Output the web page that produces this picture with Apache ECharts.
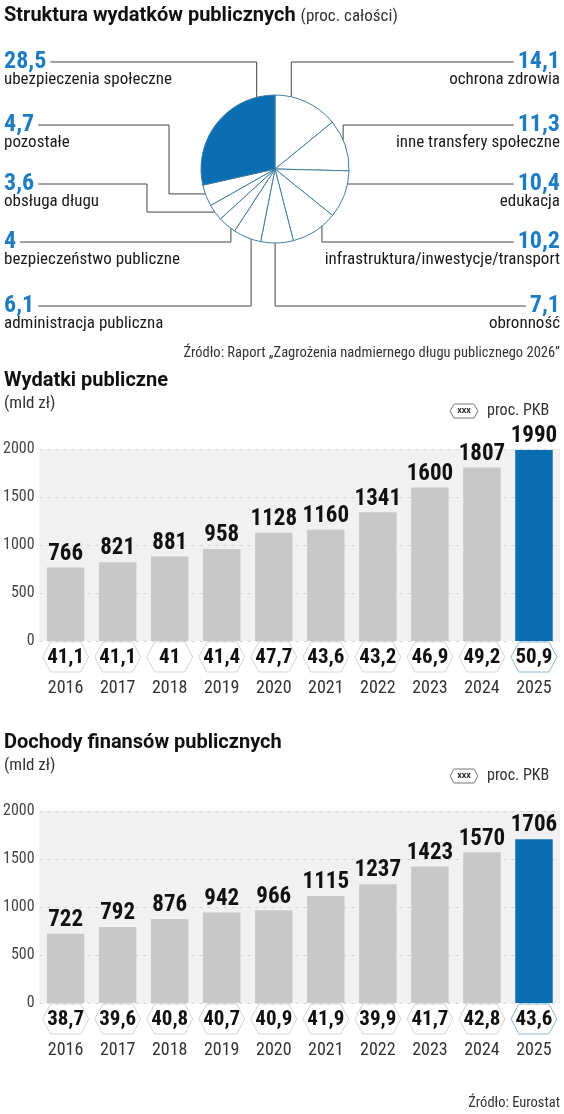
<!DOCTYPE html>
<html lang="pl">
<head>
<meta charset="utf-8">
<title>Wydatki i dochody publiczne</title>
<script src="https://cdn.jsdelivr.net/npm/echarts@6/dist/echarts.min.js"></script>
<style>
  html, body { margin: 0; padding: 0; background: #fff; }
  #main { width: 564px; height: 1114px; }
</style>
</head>
<body>
<div id="main"></div>
<script>
// ---- data ----
var pieNames = ['ochrona zdrowia', 'inne transfery społeczne', 'edukacja',
  'infrastruktura/inwestycje/transport', 'obronność', 'administracja publiczna',
  'bezpieczeństwo publiczne', 'obsługa długu', 'pozostałe', 'ubezpieczenia społeczne'];
var pieValues = [14.1, 11.3, 10.4, 10.2, 7.1, 6.1, 4, 3.6, 4.7, 28.5];

var years = ['2016', '2017', '2018', '2019', '2020', '2021', '2022', '2023', '2024', '2025'];
var wydatki = [766, 821, 881, 958, 1128, 1160, 1341, 1600, 1807, 1990];
var wydatkiPkb = [41.1, 41.1, 41, 41.4, 47.7, 43.6, 43.2, 46.9, 49.2, 50.9];
var dochody = [722, 792, 876, 942, 966, 1115, 1237, 1423, 1570, 1706];
var dochodyPkb = [38.7, 39.6, 40.8, 40.7, 40.9, 41.9, 39.9, 41.7, 42.8, 43.6];

var BLUE = '#0b6db2';
var GREY_BAR = '#c8c8c8';
var NARROW = "'Liberation Sans Narrow', 'Roboto Condensed', 'DejaVu Sans Condensed', sans-serif";
var SANS = "Roboto, 'Noto Sans', sans-serif";

function pl(v) { return String(v).replace('.', ','); }

var measureCtx = document.createElement('canvas').getContext('2d');
function textW(t, font) { measureCtx.font = font; return measureCtx.measureText(t).width; }

// ---- pie label layout ----
var PIE_C = [275, 169], PIE_R = 74;
// side, y of the leader row, where on the slice arc the leader starts (0..1), optional elbow x
var slots = [
  { side: 'r', y: 62, at: 0.25 },
  { side: 'r', y: 125, at: 0.4 },
  { side: 'r', y: 184, at: 0.27 },
  { side: 'r', y: 242, at: 0.32 },
  { side: 'r', y: 306, at: 0.56 },
  { side: 'l', y: 306, at: 0.35 },
  { side: 'l', y: 242, at: 0.24 },
  { side: 'l', y: 184, at: 0.53, bend: 147 },
  { side: 'l', y: 125, at: 0.58, bend: 169 },
  { side: 'l', y: 62, at: 0.86 }
];
var pieTotal = pieValues.reduce(function (a, b) { return a + b; }, 0);
var startDeg = [];
(function () {
  var acc = 0;
  pieValues.forEach(function (v) { startDeg.push(acc); acc += v / pieTotal * 360; });
})();

var VALUE_FONT = 'bold 24px ' + NARROW;

function pieLabelLayout(params) {
  var i = params.dataIndex, s = slots[i];
  var a = (startDeg[i] + s.at * pieValues[i] / pieTotal * 360) * Math.PI / 180;
  var px = PIE_C[0] + PIE_R * Math.sin(a), py = PIE_C[1] - PIE_R * Math.cos(a);
  var vw = textW(pl(pieValues[i]), VALUE_FONT);
  var lx = s.side === 'l' ? 4 : 560;
  var end = s.side === 'l' ? lx + vw + 4 : lx - vw - 4;
  var pts = [[px, py]];
  if (s.bend) { pts.push([s.bend, py]); pts.push([s.bend, s.y]); }
  else { pts.push([px, s.y]); }
  pts.push([end, s.y]);
  return {
    x: lx, y: s.y - 10,
    align: s.side === 'l' ? 'left' : 'right',
    verticalAlign: 'top',
    labelLinePoints: pts
  };
}

// ---- bar charts ----
var GRID_TOP = [449, 811];

function barSeries(vals, gi) {
  return {
    type: 'bar', xAxisIndex: gi, yAxisIndex: gi,
    barCategoryGap: '28%', silent: true,
    data: vals.map(function (v, i) {
      return { value: v, itemStyle: { color: i === vals.length - 1 ? BLUE : GREY_BAR } };
    }),
    label: {
      show: true, position: 'top', distance: 2,
      fontFamily: NARROW, fontWeight: 'bold', fontSize: 23, color: '#111'
    }
  };
}

function badgeSeries(pkb, gi) {
  return {
    type: 'custom', xAxisIndex: gi, yAxisIndex: gi, clip: false, silent: true, z: 5,
    data: pkb.map(function (v, i) { return [i, 0, v]; }),
    encode: { x: 0, y: 1 },
    renderItem: function (params, api) {
      var p = api.coord([api.value(0), 0]);
      var x = p[0], y = p[1] + 16, w = 23, h = 15, k = 8;
      var last = params.dataIndex === pkb.length - 1;
      return {
        type: 'group',
        children: [{
          type: 'polygon',
          shape: { points: [[x - w, y], [x - w + k, y - h], [x + w - k, y - h], [x + w, y], [x + w - k, y + h], [x - w + k, y + h]] },
          style: { fill: '#fff', stroke: last ? '#8db7d8' : '#d4d4d4', lineWidth: 1 }
        }, {
          type: 'text',
          style: {
            text: pl(api.value(2)), x: x, y: y + 1, align: 'center', verticalAlign: 'middle',
            font: 'bold 21px ' + NARROW, fill: '#111'
          }
        }]
      };
    }
  };
}

function legendGraphic(y) {
  return [{
    type: 'polygon',
    shape: { points: [[450, y], [454, y - 7], [474, y - 7], [478, y], [474, y + 7], [454, y + 7]] },
    style: { fill: '#fff', stroke: '#555', lineWidth: 0.8 }
  }, {
    type: 'text', x: 464, y: y,
    style: { text: 'xxx', font: 'bold 9px ' + SANS, fill: '#333', align: 'center', verticalAlign: 'middle' }
  }, {
    type: 'text', x: 487, y: y,
    style: { text: 'proc. PKB', font: '16px ' + NARROW, fill: '#333', verticalAlign: 'middle' }
  }];
}

var TITLE_FONT = 'bold 20px ' + SANS;
var t1 = 'Struktura wydatków publicznych';

var graphics = [
  { type: 'text', x: 4, y: 16, style: { text: t1, font: TITLE_FONT, fill: '#111', verticalAlign: 'middle' } },
  { type: 'text', x: 4 + textW(t1, TITLE_FONT) + 5, y: 17, style: { text: '(proc. całości)', font: '17px ' + NARROW, fill: '#333', verticalAlign: 'middle' } },
  { type: 'text', x: 560, y: 353, style: { text: 'Źródło: Raport „Zagrożenia nadmiernego długu publicznego 2026”', font: '14.5px ' + NARROW, fill: '#333', align: 'right', verticalAlign: 'middle' } },
  { type: 'text', x: 4, y: 381, style: { text: 'Wydatki publiczne', font: TITLE_FONT, fill: '#111', verticalAlign: 'middle' } },
  { type: 'text', x: 4, y: 404, style: { text: '(mld zł)', font: '17px ' + NARROW, fill: '#333', verticalAlign: 'middle' } },
  { type: 'text', x: 4, y: 743, style: { text: 'Dochody finansów publicznych', font: TITLE_FONT, fill: '#111', verticalAlign: 'middle' } },
  { type: 'text', x: 4, y: 766, style: { text: '(mld zł)', font: '17px ' + NARROW, fill: '#333', verticalAlign: 'middle' } },
  { type: 'text', x: 560, y: 1103, style: { text: 'Źródło: Eurostat', font: '14.5px ' + NARROW, fill: '#333', align: 'right', verticalAlign: 'middle' } }
].concat(legendGraphic(411), legendGraphic(776));

function yAxisFor(gi) {
  return {
    type: 'value', gridIndex: gi, min: 0, max: 2000, interval: 500,
    axisLine: { show: false }, axisTick: { show: false },
    axisLabel: {
      fontFamily: NARROW, fontSize: 16, color: '#444', margin: 5,
      formatter: function (v) { return String(v); }
    },
    splitLine: { lineStyle: { color: '#d4d4d4', type: [3, 5] } }
  };
}
function xAxisFor(gi) {
  return {
    type: 'category', gridIndex: gi, data: years,
    axisLine: { show: false }, axisTick: { show: false },
    axisLabel: { fontFamily: NARROW, fontSize: 18, color: '#333', margin: 38 }
  };
}

var chart = echarts.init(document.getElementById('main'), null, { renderer: 'canvas' });
chart.setOption({
  animation: false,
  backgroundColor: '#fff',
  graphic: graphics,
  grid: GRID_TOP.map(function (t) {
    return { left: 39, right: 4, top: t, height: 192, show: true, backgroundColor: '#f1f1f1', borderWidth: 0 };
  }),
  xAxis: [xAxisFor(0), xAxisFor(1)],
  yAxis: [yAxisFor(0), yAxisFor(1)],
  series: [{
    type: 'pie',
    center: PIE_C, radius: PIE_R,
    startAngle: 90, clockwise: true,
    avoidLabelOverlap: false, silent: true,
    emphasis: { disabled: true },
    data: pieValues.map(function (v, i) {
      return {
        name: pieNames[i], value: v,
        itemStyle: { color: i === pieValues.length - 1 ? BLUE : '#fff' }
      };
    }),
    itemStyle: { borderColor: '#3f7fa2', borderWidth: 1 },
    label: {
      show: true, position: 'outside',
      formatter: function (p) { return '{v|' + pl(p.value) + '}\n{n|' + p.name + '}'; },
      rich: {
        v: { font: VALUE_FONT, fontFamily: NARROW, fontWeight: 'bold', fontSize: 24, color: '#1d7cc2', lineHeight: 19 },
        n: { fontFamily: NARROW, fontSize: 17, color: '#1a1a1a', lineHeight: 17 }
      }
    },
    labelLine: { show: true, smooth: false, lineStyle: { color: '#444', width: 1 } },
    labelLayout: pieLabelLayout
  },
  barSeries(wydatki, 0), badgeSeries(wydatkiPkb, 0),
  barSeries(dochody, 1), badgeSeries(dochodyPkb, 1)]
});
</script>
</body>
</html>
